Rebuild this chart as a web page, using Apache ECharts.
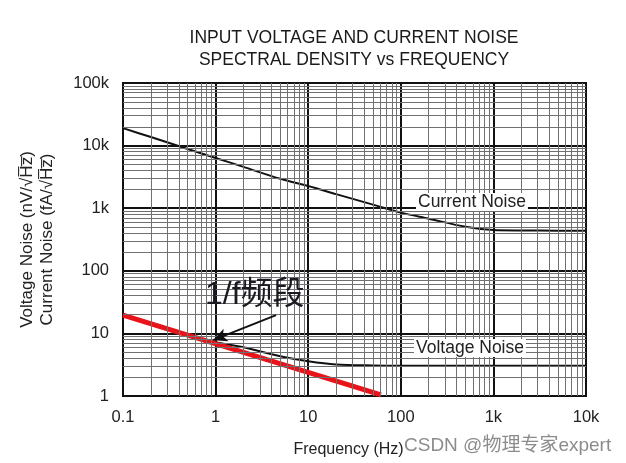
<!DOCTYPE html>
<html>
<head>
<meta charset="utf-8">
<script src="https://cdn.jsdelivr.net/npm/echarts@6/dist/echarts.min.js"></script>
<style>html,body{margin:0;padding:0;background:#fff}#c{width:626px;height:463px}</style>
</head>
<body>
<div id="c"></div>
<script>
// ---- data ----
const currentFreq  = [0.1, 0.2, 0.5, 1, 2, 5, 10, 20, 50, 100, 200, 500, 1000, 2000, 5000, 10000];
const currentNoise = [19000, 13700, 8830, 6350, 4570, 2950, 2260, 1680, 1140, 850, 680, 505, 447, 440, 438, 437];
const voltageFreq  = [0.1, 0.2, 0.5, 1, 2, 5, 10, 20, 50, 100, 1000, 10000];
const voltageNoise = [19, 14, 9.3, 7.2, 6.0, 4.3, 3.6, 3.2, 3.08, 3.05, 3.05, 3.05];
const oneOverFFreq = [0.1, 61];
const oneOverFVal  = [19.6, 1.04];
const arrowFrom = [4.5, 19.6];
const arrowTo   = [0.94, 7.8];
const xTickValues = [0.1, 1, 10, 100, 1000, 10000];
const xTickLabels = ['0.1', '1', '10', '100', '1k', '10k'];
const yTickValues = [1, 10, 100, 1000, 10000, 100000];
const yTickLabels = ['1', '10', '100', '1k', '10k', '100k'];
const minorMultipliers = [2, 3, 4, 5, 6, 7, 8, 9];
const xDecades = [0.1, 1, 10, 100, 1000];
const yDecades = [1, 10, 100, 1000, 10000];

const FONT = "'Liberation Sans', Arial, sans-serif";
function lookup(vals, labels) {
  return function (v) {
    for (let i = 0; i < vals.length; i++) {
      if (Math.abs(Math.log10(v) - Math.log10(vals[i])) < 1e-6) return labels[i];
    }
    return '';
  };
}
const minorLines = [];
xDecades.forEach(d => minorMultipliers.forEach(m => minorLines.push({ xAxis: d * m })));
yDecades.forEach(d => minorMultipliers.forEach(m => minorLines.push({ yAxis: d * m })));

const chart = echarts.init(document.getElementById('c'), null, { renderer: 'canvas' });
chart.setOption({
  animation: false,
  backgroundColor: '#fff',
  title: {
    text: 'INPUT VOLTAGE AND CURRENT NOISE\nSPECTRAL DENSITY vs FREQUENCY',
    left: 349, top: 22, textAlign: 'center',
    textStyle: { fontFamily: FONT, fontSize: 17.5, fontWeight: 'normal', color: '#1a1a1a', lineHeight: 22 }
  },
  grid: { left: 123, right: 40, top: 83, bottom: 67, outerBoundsMode: 'none', containLabel: false,
    show: true, borderColor: '#111', borderWidth: 2, backgroundColor: 'transparent' },
  xAxis: {
    type: 'log', logBase: 10, min: 0.1, max: 10000, interval: 1,
    name: 'Frequency (Hz)', nameLocation: 'middle', nameGap: 46,
    nameTextStyle: { fontFamily: FONT, fontSize: 16, color: '#222', padding: [0, 12, 0, 0] },
    axisLine: { show: true, lineStyle: { color: '#111', width: 2 } },
    axisTick: { show: false },
    axisLabel: { formatter: lookup(xTickValues, xTickLabels), fontFamily: FONT, fontSize: 16.5, color: '#222', margin: 13 },
    splitLine: { show: true, lineStyle: { color: '#111', width: 2 } }
  },
  yAxis: {
    type: 'log', logBase: 10, min: 1, max: 100000, interval: 1,
    name: 'Voltage Noise (nV/√H̅z̅)\nCurrent Noise (fA/√H̅z̅)', nameLocation: 'middle', nameGap: 66, nameRotate: 90,
    nameTextStyle: { fontFamily: FONT, fontSize: 17, color: '#222', lineHeight: 20 },
    axisLine: { show: true, lineStyle: { color: '#111', width: 2 } },
    axisTick: { show: false },
    axisLabel: { formatter: lookup(yTickValues, yTickLabels), fontFamily: FONT, fontSize: 16.5, color: '#222', margin: 14 },
    splitLine: { show: true, lineStyle: { color: '#111', width: 2 } }
  },
  series: [
    {
      name: 'grid', type: 'line', data: [[0.1, 1]], showSymbol: false, symbol: 'none', silent: true, z: 1,
      lineStyle: { opacity: 0 },
      markLine: { silent: true, symbol: 'none', animation: false, label: { show: false },
        lineStyle: { color: '#707070', width: 1, type: 'solid' }, data: minorLines }
    },
    {
      name: 'Current Noise', type: 'line', data: currentFreq.map((f, i) => [f, currentNoise[i]]),
      showSymbol: false, symbol: 'none', smooth: 0.3, z: 3, lineStyle: { color: '#111', width: 2 }
    },
    {
      name: 'Voltage Noise', type: 'line', data: voltageFreq.map((f, i) => [f, voltageNoise[i]]),
      showSymbol: false, symbol: 'none', smooth: 0.3, z: 3, lineStyle: { color: '#111', width: 2 }
    },
    {
      name: '1/f', type: 'line', data: oneOverFFreq.map((f, i) => [f, oneOverFVal[i]]),
      showSymbol: false, symbol: 'none', z: 4, lineStyle: { color: '#e8141a', width: 5 },
      markLine: { silent: true, symbol: ['none', 'arrow'], symbolSize: [10, 14], animation: false, z: 5,
        label: { show: false }, lineStyle: { color: '#111', width: 2, type: 'solid' },
        data: [[{ coord: arrowFrom }, { coord: arrowTo }]] }
    }
  ],
  graphic: [
    { type: 'text', left: 416, top: 193, z: 10, style: { text: 'Current Noise', font: "17.5px 'Liberation Sans', Arial", fill: '#222', backgroundColor: '#fff', padding: [0, 2] } },
    { type: 'text', left: 414, top: 339, z: 10, style: { text: 'Voltage Noise', font: "17.5px 'Liberation Sans', Arial", fill: '#222', backgroundColor: '#fff', padding: [0, 2] } },
    { type: 'text', left: 205, top: 279, z: 10, style: { text: '1/f频段', font: "32px 'Liberation Sans', 'Noto Sans CJK SC', sans-serif", fill: '#1a1a22' } },
    { type: 'text', left: 404, top: 436, z: 10, style: { text: 'CSDN @物理专家expert', font: "19px 'Liberation Sans', 'Noto Sans CJK SC', sans-serif", fill: '#8c8c8c' } }
  ]
});
</script>
</body>
</html>
